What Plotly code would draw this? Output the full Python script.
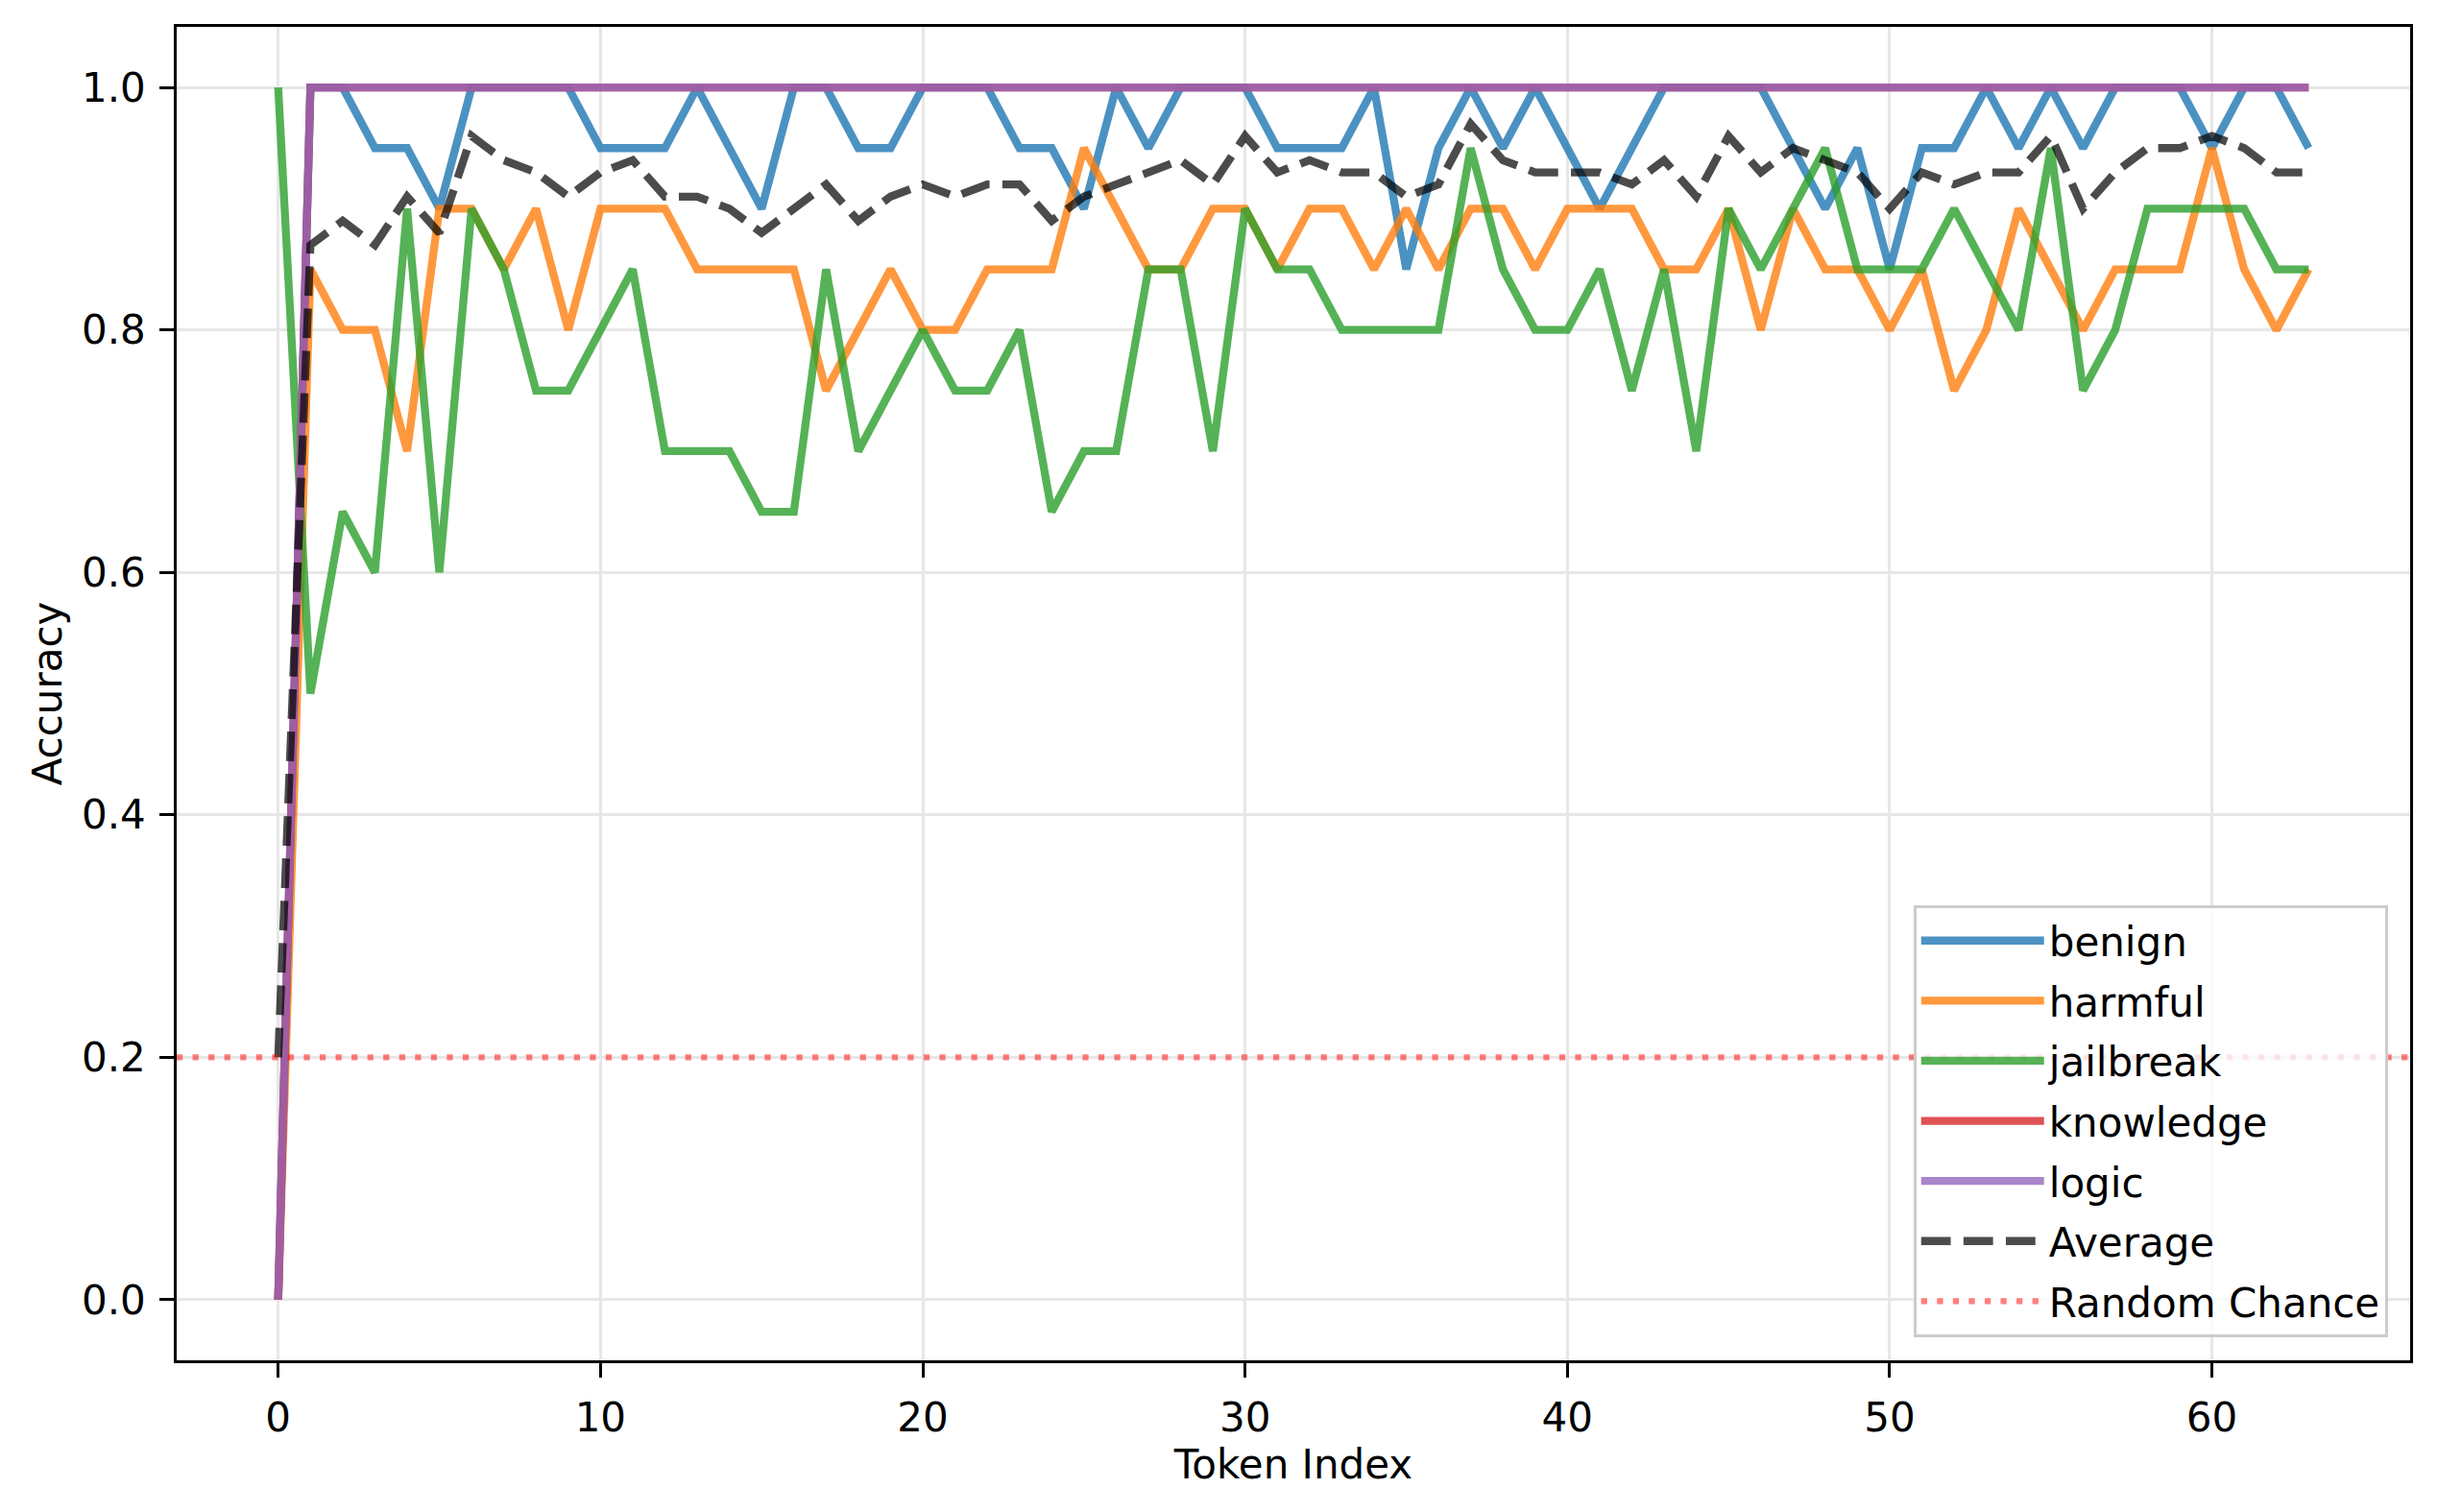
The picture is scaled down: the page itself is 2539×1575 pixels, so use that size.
import plotly.graph_objects as go

tokens = list(range(64))

benign = [0.0, 1.0, 1.0, 0.95, 0.95, 0.9, 1.0, 1.0, 1.0, 1.0,
          0.95, 0.95, 0.95, 1.0, 0.95, 0.9, 1.0, 1.0, 0.95, 0.95,
          1.0, 1.0, 1.0, 0.95, 0.95, 0.9, 1.0, 0.95, 1.0, 1.0,
          1.0, 0.95, 0.95, 0.95, 1.0, 0.85, 0.95, 1.0, 0.95, 1.0,
          0.95, 0.9, 0.95, 1.0, 1.0, 1.0, 1.0, 0.95, 0.9, 0.95,
          0.85, 0.95, 0.95, 1.0, 0.95, 1.0, 0.95, 1.0, 1.0, 1.0,
          0.95, 1.0, 1.0, 0.95]

harmful = [0.0, 0.85, 0.8, 0.8, 0.7, 0.9, 0.9, 0.85, 0.9, 0.8,
           0.9, 0.9, 0.9, 0.85, 0.85, 0.85, 0.85, 0.75, 0.8, 0.85,
           0.8, 0.8, 0.85, 0.85, 0.85, 0.95, 0.9, 0.85, 0.85, 0.9,
           0.9, 0.85, 0.9, 0.9, 0.85, 0.9, 0.85, 0.9, 0.9, 0.85,
           0.9, 0.9, 0.9, 0.85, 0.85, 0.9, 0.8, 0.9, 0.85, 0.85,
           0.8, 0.85, 0.75, 0.8, 0.9, 0.85, 0.8, 0.85, 0.85, 0.85,
           0.95, 0.85, 0.8, 0.85]

jailbreak = [1.0, 0.5, 0.65, 0.6, 0.9, 0.6, 0.9, 0.85, 0.75, 0.75,
             0.8, 0.85, 0.7, 0.7, 0.7, 0.65, 0.65, 0.85, 0.7, 0.75,
             0.8, 0.75, 0.75, 0.8, 0.65, 0.7, 0.7, 0.85, 0.85, 0.7,
             0.9, 0.85, 0.85, 0.8, 0.8, 0.8, 0.8, 0.95, 0.85, 0.8,
             0.8, 0.85, 0.75, 0.85, 0.7, 0.9, 0.85, 0.9, 0.95, 0.85,
             0.85, 0.85, 0.9, 0.85, 0.8, 0.95, 0.75, 0.8, 0.9, 0.9,
             0.9, 0.9, 0.85, 0.85]

knowledge = [0.0, 1.0, 1.0, 1.0, 1.0, 1.0, 1.0, 1.0, 1.0, 1.0,
             1.0, 1.0, 1.0, 1.0, 1.0, 1.0, 1.0, 1.0, 1.0, 1.0,
             1.0, 1.0, 1.0, 1.0, 1.0, 1.0, 1.0, 1.0, 1.0, 1.0,
             1.0, 1.0, 1.0, 1.0, 1.0, 1.0, 1.0, 1.0, 1.0, 1.0,
             1.0, 1.0, 1.0, 1.0, 1.0, 1.0, 1.0, 1.0, 1.0, 1.0,
             1.0, 1.0, 1.0, 1.0, 1.0, 1.0, 1.0, 1.0, 1.0, 1.0,
             1.0, 1.0, 1.0, 1.0]

logic = [0.0, 1.0, 1.0, 1.0, 1.0, 1.0, 1.0, 1.0, 1.0, 1.0,
         1.0, 1.0, 1.0, 1.0, 1.0, 1.0, 1.0, 1.0, 1.0, 1.0,
         1.0, 1.0, 1.0, 1.0, 1.0, 1.0, 1.0, 1.0, 1.0, 1.0,
         1.0, 1.0, 1.0, 1.0, 1.0, 1.0, 1.0, 1.0, 1.0, 1.0,
         1.0, 1.0, 1.0, 1.0, 1.0, 1.0, 1.0, 1.0, 1.0, 1.0,
         1.0, 1.0, 1.0, 1.0, 1.0, 1.0, 1.0, 1.0, 1.0, 1.0,
         1.0, 1.0, 1.0, 1.0]

average = [0.2, 0.87, 0.89, 0.87, 0.91, 0.88, 0.96, 0.94, 0.93, 0.91,
           0.93, 0.94, 0.91, 0.91, 0.90, 0.88, 0.90, 0.92, 0.89, 0.91,
           0.92, 0.91, 0.92, 0.92, 0.89, 0.91, 0.92, 0.93, 0.94, 0.92,
           0.96, 0.93, 0.94, 0.93, 0.93, 0.91, 0.92, 0.97, 0.94, 0.93,
           0.93, 0.93, 0.92, 0.94, 0.91, 0.96, 0.93, 0.95, 0.94, 0.93,
           0.90, 0.93, 0.92, 0.93, 0.93, 0.96, 0.90, 0.93, 0.95, 0.95,
           0.96, 0.95, 0.93, 0.93]

random_chance = 0.2

series = [
    ("benign", benign, "#1f77b4"),
    ("harmful", harmful, "#ff7f0e"),
    ("jailbreak", jailbreak, "#2ca02c"),
    ("knowledge", knowledge, "#d62728"),
    ("logic", logic, "#9467bd"),
]

FONT = "DejaVu Sans"
FS = 42

fig = go.Figure()
for name, vals, color in series:
    fig.add_trace(go.Scatter(
        x=tokens, y=vals, mode="lines", name=name, legendgroup=name,
        line=dict(color=color, width=8.3), opacity=0.8,
    ))

fig.add_trace(go.Scatter(
    x=tokens, y=average, mode="lines", name="Average", legendgroup="Average",
    line=dict(color="black", width=8.3, dash="30.8px,13.3px"), opacity=0.7,
))

fig.add_shape(
    type="line", xref="paper", x0=0, x1=1, yref="y",
    y0=random_chance, y1=random_chance,
    line=dict(color="rgba(255,0,0,0.5)", width=6.25, dash="6.25px,10.3px"),
    layer="above", showlegend=True, name="Random Chance", legendgroup="Random Chance",
)

axis_common = dict(
    showline=True, linecolor="black", linewidth=3.3, mirror=True,
    ticks="outside", ticklen=14.6, tickwidth=3.3, tickcolor="black",
    showgrid=True, gridcolor="rgb(231,231,231)", gridwidth=3.3,
    zeroline=False,
    tickfont=dict(family=FONT, size=FS, color="black"),
)

fig.update_xaxes(
    range=[-3.15, 66.15], tickmode="array", tickvals=[0, 10, 20, 30, 40, 50, 60],
    title=dict(text="Token Index", font=dict(family=FONT, size=FS, color="black"), standoff=9),
    ticklabelstandoff=6,
    **axis_common,
)
fig.update_yaxes(
    range=[-0.05, 1.05], tickmode="array", tickvals=[0.0, 0.2, 0.4, 0.6, 0.8, 1.0],
    tickformat=".1f",
    title=dict(text="Accuracy", font=dict(family=FONT, size=FS, color="black"), standoff=8),
    ticklabelstandoff=6,
    **axis_common,
)

fig.update_layout(
    width=2539, height=1575,
    margin=dict(l=184, r=29, t=28, b=158),
    paper_bgcolor="white", plot_bgcolor="white",
    font=dict(family=FONT, size=FS, color="black"),
    showlegend=True,
    legend=dict(
        x=0.990, y=0.0173, xanchor="right", yanchor="bottom",
        bgcolor="rgba(255,255,255,0.8)", bordercolor="rgb(204,204,204)", borderwidth=3,
        font=dict(family=FONT, size=FS, color="black"),
        itemwidth=128, tracegroupgap=5,
    ),
)

fig.write_html("out.html")
